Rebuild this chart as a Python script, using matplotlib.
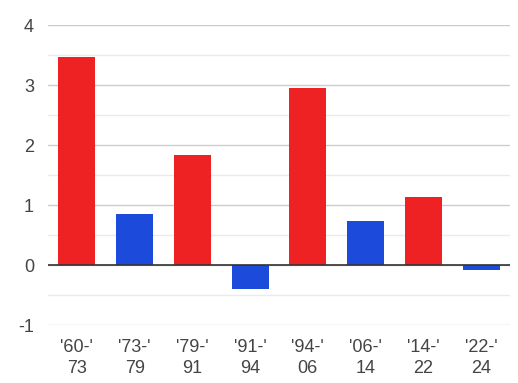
import numpy as np
import matplotlib
matplotlib.use("Agg")
import matplotlib.pyplot as plt

plt.rcParams['font.family'] = ['Liberation Sans', 'DejaVu Sans']

periods = ["'60-'\n73", "'73-'\n79", "'79-'\n91", "'91-'\n94",
           "'94-'\n06", "'06-'\n14", "'14-'\n22", "'22-'\n24"]
values = [3.46, 0.85, 1.84, -0.40, 2.95, 0.74, 1.13, -0.08]
party = ['R', 'D', 'R', 'D', 'R', 'D', 'R', 'D']
colors = {'R': '#ee2222', 'D': '#1c4adb'}

fig = plt.figure(figsize=(5.18, 3.83), dpi=100)
ax = fig.add_axes([48/518, 1-325/383, 462/518, 300/383])

x = np.arange(len(values))
ax.bar(x, values, width=0.64, color=[colors[p] for p in party], zorder=3)

ax.set_xlim(-0.5, len(values)-0.5)
ax.set_ylim(-1, 4)
ax.set_yticks([-1, 0, 1, 2, 3, 4])
ax.set_yticklabels(['-1', '0', '1', '2', '3', '4'])
ax.set_yticks(np.arange(-0.5, 4, 1), minor=True)
ax.grid(axis='y', which='major', color='#cccccc', linewidth=1, zorder=0)
ax.grid(axis='y', which='minor', color='#ebebeb', linewidth=1, zorder=0)
ax.axhline(0, color='#333333', linewidth=1.2, zorder=4)

ax.set_xticks(x)
ax.set_xticklabels(periods, fontsize=13, color='#444444', linespacing=1.35)
ax.tick_params(axis='y', labelsize=13, colors='#444444', length=0, pad=10)
ax.tick_params(axis='y', which='minor', length=0)
ax.tick_params(axis='x', length=0, pad=10)
for s in ax.spines.values():
    s.set_visible(False)

fig.savefig('out.png', dpi=100)
